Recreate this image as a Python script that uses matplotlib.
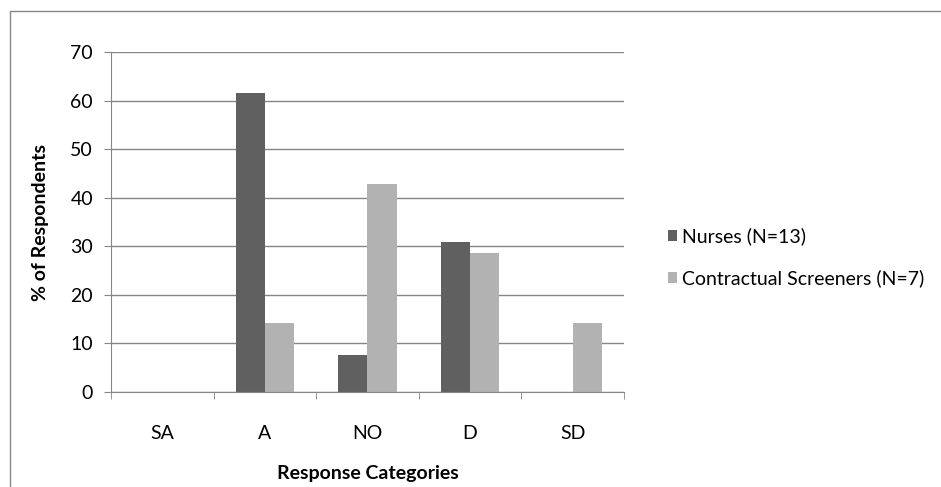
import numpy as np
import matplotlib.pyplot as plt
import matplotlib.patches as mpatches

# datos
categorias = ['SA', 'A', 'NO', 'D', 'SD']
nurses = [0, 61.5, 7.7, 30.8, 0]
screeners = [0, 14.3, 42.9, 28.6, 14.3]
etiquetas = ['Nurses (N=13)', 'Contractual Screeners (N=7)']

plt.rcParams['font.family'] = ['Lato', 'DejaVu Sans']
gris = '#868686'
fs = 14

fig = plt.figure(figsize=(9.41, 4.87), dpi=100)
ax = fig.add_axes([0.118, 0.195, 0.545, 0.698])

x = np.arange(len(categorias))
w = 1 / 3.5
ax.bar(x - w/2, nurses, w, color='#606060', label=etiquetas[0])
ax.bar(x + w/2, screeners, w, color='#b2b2b2', label=etiquetas[1])

ax.set_xlim(-0.5, len(categorias) - 0.5)
ax.set_ylim(0, 70)
ax.set_yticks(np.arange(0, 71, 10))
ax.yaxis.grid(True, color=gris, lw=1)
ax.set_axisbelow(True)

ax.set_xticks(x)
ax.set_xticklabels(categorias)
ax.set_xticks(np.arange(-0.5, len(categorias)), minor=True)
ax.tick_params(axis='x', which='major', length=0, pad=24, labelsize=fs)
ax.tick_params(axis='x', which='minor', length=5, color=gris)
ax.tick_params(axis='y', length=5, color=gris, labelsize=fs, pad=8)

for s in ['top', 'right']:
    ax.spines[s].set_visible(False)
for s in ['left', 'bottom']:
    ax.spines[s].set_color(gris)

ax.set_ylabel('% of Respondents', fontweight='bold', fontsize=fs, labelpad=15)
ax.set_xlabel('Response Categories', fontweight='bold', fontsize=fs, labelpad=16)

ax.legend(loc='center left', bbox_to_anchor=(0.691, 0.472), bbox_transform=fig.transFigure,
          frameon=False, fontsize=fs, handlelength=0.5, handleheight=0.5,
          handletextpad=0.25, labelspacing=1.25)

# borde del gráfico (recortado a la derecha y abajo)
fig.patches.append(mpatches.Rectangle((0.0106, -0.1), 1.2, 1.077, transform=fig.transFigure,
                                      fill=False, edgecolor=gris, lw=1))

fig.savefig('out.png', dpi=100)
